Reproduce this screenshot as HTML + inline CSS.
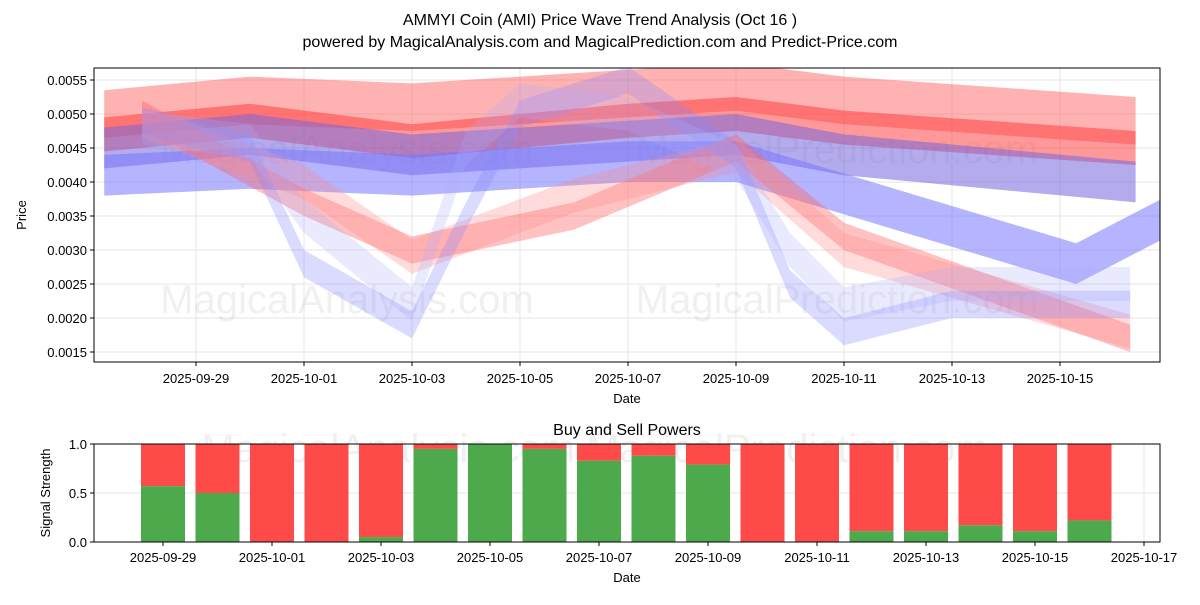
<!DOCTYPE html>
<html><head><meta charset="utf-8"><style>
body{margin:0;background:#fff;font-family:"Liberation Sans","DejaVu Sans",sans-serif}
</style></head><body>
<svg id="c" width="1200" height="600" viewBox="0 0 1200 600" xmlns="http://www.w3.org/2000/svg" font-family="Liberation Sans, DejaVu Sans, sans-serif"><defs><clipPath id="clipTop"><rect x="94" y="68" width="1066" height="294"/></clipPath></defs></svg>
<script>
const dayLabels=["2025-09-29","2025-10-01","2025-10-03","2025-10-05","2025-10-07","2025-10-09","2025-10-11","2025-10-13","2025-10-15"];
const dayLabels2=["2025-09-29","2025-10-01","2025-10-03","2025-10-05","2025-10-07","2025-10-09","2025-10-11","2025-10-13","2025-10-15","2025-10-17"];
const priceTicks=[0.0015,0.0020,0.0025,0.0030,0.0035,0.0040,0.0045,0.0050,0.0055];
const strengthTicks=[0,0.5,1.0];
const bandDays=[
 [-1.7,1,4,8,10,12,17.4],
 [-1.7,1,4,8,10,12,17.4],
 [-1.7,1,4,8,10,12,17.4],
 [-1.7,1,4,8,10,16.3,18.0],
 [-1.0,2,4,7,10,12,17.3],
 [-1.0,2,4,7,10,12,17.3],
 [-1.0,1,2,4,5,6,8,10,11,12,14,17.3],
 [-1.0,1,2,4,5,6,8,10,11,12,14,17.3]
];
const bandCenters=[
 [0.0050,0.0052,0.0051,0.0053,0.0054,0.0052,0.0049],
 [0.0047,0.0049,0.0046,0.0049,0.0050,0.0048,0.0045],
 [0.0045,0.0047,0.0044,0.0046,0.0047,0.0044,0.0040],
 [0.0041,0.0042,0.0041,0.0043,0.0043,0.0028,0.0035],
 [0.0050,0.0037,0.0030,0.0035,0.0045,0.0032,0.0017],
 [0.0049,0.0040,0.0029,0.0038,0.0044,0.0030,0.0018],
 [0.0049,0.0045,0.0028,0.0019,0.0035,0.0050,0.0055,0.0044,0.0025,0.0018,0.0022,0.0022],
 [0.0048,0.0046,0.0035,0.0022,0.0045,0.0052,0.0050,0.0043,0.0030,0.0022,0.0025,0.0025]
];
const bandHalf=[0.00035,0.00025,0.0003,0.0003,0.0002,0.00025,0.0002,0.00025];
const bandColors=["#ff5555","#ff3333","#7766dd","#7777ff","#ff6666","#ff8888","#8888ff","#aaaaff"];
const bandOpacity=[0.45,0.5,0.55,0.55,0.4,0.3,0.3,0.25];
const barDays=[0,1,2,3,4,5,6,7,8,9,10,11,12,13,14,15,16,17];
const buyValues=[0.57,0.5,0,0,0.05,0.95,1.0,0.95,0.83,0.88,0.79,0,0,0.11,0.11,0.17,0.11,0.22];

const svg=document.getElementById('c');const NS="http://www.w3.org/2000/svg";
function el(t,a,p){const e=document.createElementNS(NS,t);for(const k in a)e.setAttribute(k,a[k]);(p||svg).appendChild(e);return e;}
const X1=d=>196+54*d, Y1=v=>352-(v-0.0015)/0.0005*34;
const X2=d=>163+54.5*d, Y2=v=>542-v*98;
let t=el('text',{x:600,y:25,'text-anchor':'middle','font-size':16});t.textContent="AMMYI Coin (AMI) Price Wave Trend Analysis (Oct 16 )";

t=el('text',{x:600,y:47,'text-anchor':'middle','font-size':16});t.textContent="powered by MagicalAnalysis.com and MagicalPrediction.com and Predict-Price.com";

let g=el('g',{});
dayLabels.forEach((s,i)=>{el('line',{x1:X1(2*i),x2:X1(2*i),y1:68,y2:362,stroke:'#e5e5e5'},g);});
priceTicks.forEach(v=>{el('line',{x1:94,x2:1160,y1:Y1(v),y2:Y1(v),stroke:'#e5e5e5'},g);});
["MagicalAnalysis.com","MagicalPrediction.com"].forEach((s,i)=>{
 let w=el('text',{x:i?837:347,y:163,'text-anchor':'middle','font-size':40,fill:'#000','fill-opacity':0.06});w.textContent=s;
 
 w=el('text',{x:i?837:347,y:313,'text-anchor':'middle','font-size':40,fill:'#000','fill-opacity':0.06});w.textContent=s;
 
});
const bg=el('g',{'clip-path':'url(#clipTop)'});

bandDays.forEach((ds,b)=>{
 const up=ds.map((d,i)=>X1(d)+','+Y1(bandCenters[b][i]+bandHalf[b]));
 const lo=ds.map((d,i)=>X1(d)+','+Y1(bandCenters[b][i]-bandHalf[b])).reverse();
 const p=el('polygon',{points:up.concat(lo).join(' '),fill:bandColors[b],'fill-opacity':bandOpacity[b]},bg);
 
 
});
el('rect',{x:94,y:68,width:1066,height:294,fill:'none',stroke:'#000','stroke-width':1});
dayLabels.forEach((s,i)=>{el('line',{x1:X1(2*i),x2:X1(2*i),y1:362,y2:366,stroke:'#000'});
 const l=el('text',{x:X1(2*i),y:383,'text-anchor':'middle','font-size':13});l.textContent=s;
 });
priceTicks.forEach(v=>{el('line',{x1:90,x2:94,y1:Y1(v),y2:Y1(v),stroke:'#000'});
 const l=el('text',{x:87,y:Y1(v)+5,'text-anchor':'end','font-size':13});l.textContent=v.toFixed(4);
 });
t=el('text',{x:627,y:403,'text-anchor':'middle','font-size':13});t.textContent="Date";
t=el('text',{x:26,y:215,'text-anchor':'middle','font-size':13,transform:'rotate(-90 26 215)'});t.textContent="Price";
t=el('text',{x:627,y:435,'text-anchor':'middle','font-size':16});t.textContent="Buy and Sell Powers";
dayLabels2.forEach((s,i)=>el('line',{x1:X2(2*i),x2:X2(2*i),y1:444,y2:542,stroke:'#e5e5e5'}));
strengthTicks.forEach(v=>el('line',{x1:94,x2:1160,y1:Y2(v),y2:Y2(v),stroke:'#e5e5e5'}));
let w=el('text',{x:595,y:462,'text-anchor':'middle','font-size':40,fill:'#000','fill-opacity':0.06});w.textContent="MagicalAnalysis.com    MagicalPrediction.com";

barDays.forEach((d,i)=>{
 const b=buyValues[i];
 const r=el('rect',{x:X2(d)-22,y:Y2(1),width:44,height:Y2(b)-Y2(1),fill:'#ff4a4a'});
 
 const gr=el('rect',{x:X2(d)-22,y:Y2(b),width:44,height:Y2(0)-Y2(b),fill:'#4caa4c'});
 
});
el('rect',{x:94,y:444,width:1066,height:98,fill:'none',stroke:'#000'});
dayLabels2.forEach((s,i)=>{el('line',{x1:X2(2*i),x2:X2(2*i),y1:542,y2:546,stroke:'#000'});
 const l=el('text',{x:X2(2*i),y:562,'text-anchor':'middle','font-size':13});l.textContent=s;
 });
strengthTicks.forEach(v=>{el('line',{x1:90,x2:94,y1:Y2(v),y2:Y2(v),stroke:'#000'});
 const l=el('text',{x:87,y:Y2(v)+5,'text-anchor':'end','font-size':13});l.textContent=v.toFixed(1);
 });
t=el('text',{x:627,y:582,'text-anchor':'middle','font-size':13});t.textContent="Date";
t=el('text',{x:50,y:493,'text-anchor':'middle','font-size':13,transform:'rotate(-90 50 493)'});t.textContent="Signal Strength";
</script>
</body></html>
